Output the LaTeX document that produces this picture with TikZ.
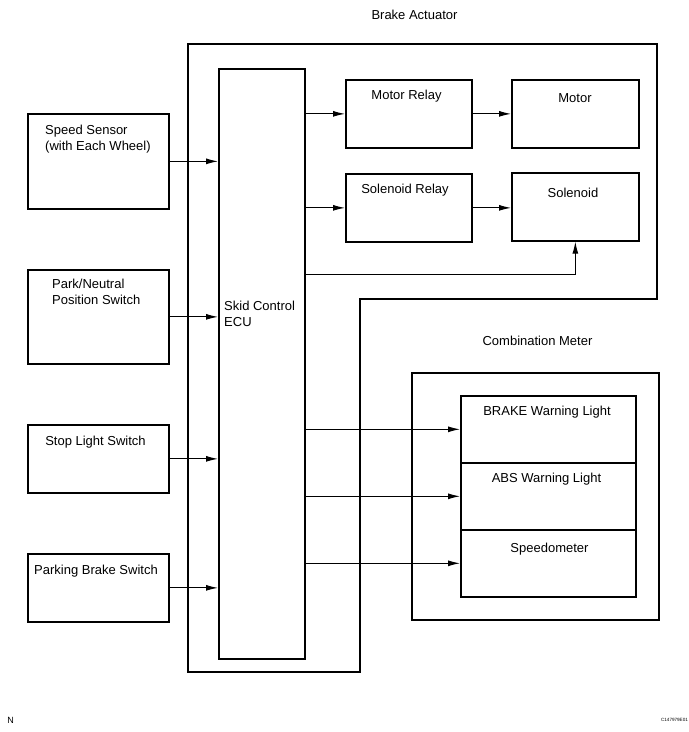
\documentclass[tikz,border=0pt]{standalone}
\usepackage{fontspec}
\setmainfont{Liberation Sans}
\usetikzlibrary{arrows.meta}
\tikzset{
  box/.style={draw, line width=1.7pt, rectangle, anchor=north west, inner sep=0pt},
  obox/.style={draw, line width=1.6pt, rectangle, anchor=north west, inner sep=0pt},
  lbl/.style={font=\fontsize{13}{16}\selectfont, inner sep=0pt},
  arr/.style={line width=1pt, -{Latex[length=12pt,width=6pt]}},
  wire/.style={line width=1pt}
}
\begin{document}
\begin{tikzpicture}[x=1pt,y=-1pt]
\useasboundingbox (0,0) rectangle (689,732);
% Brake actuator outline
\coordinate (ba1) at (188,44);
\coordinate (ba2) at (657,44);
\coordinate (ba3) at (657,299);
\coordinate (ba4) at (360,299);
\coordinate (ba5) at (360,672);
\coordinate (ba6) at (188,672);
\draw[line width=1.6pt] (ba1) -- (ba2) -- (ba3) -- (ba4) -- (ba5) -- (ba6) -- cycle;
\node[lbl] (tba) at (414.5,15) {Brake Actuator};

% ECU
\node[box, minimum width=86, minimum height=590] (ecu) at (218,68) {};
\node[lbl, anchor=west, align=left] (tecu) at (224,314) {Skid Control\\ECU};

% Actuator internals
\node[box, minimum width=126, minimum height=68] (mr) at (345,79) {};
\node[lbl] (tmr) at (406.5,96) {Motor Relay};
\node[box, minimum width=127, minimum height=68] (mo) at (511,79) {};
\node[lbl] (tmo) at (575,98) {Motor};
\node[box, minimum width=126, minimum height=68] (sr) at (345,173) {};
\node[lbl] (tsr) at (405,190) {Solenoid Relay};
\node[box, minimum width=127, minimum height=68] (so) at (511,172) {};
\node[lbl] (tso) at (573,193) {Solenoid};

% Input switches
\node[box, minimum width=141, minimum height=95] (ss) at (27,113) {};
\node[lbl, anchor=west, align=left] (tss) at (45,139) {Speed Sensor\\(with Each Wheel)};
\node[box, minimum width=141, minimum height=94] (pn) at (27,269) {};
\node[lbl, anchor=west, align=left] (tpn) at (52,292) {Park/Neutral\\Position Switch};
\node[box, minimum width=141, minimum height=68] (sl) at (27,424) {};
\node[lbl] (tsl) at (95.5,442) {Stop Light Switch};
\node[box, minimum width=141, minimum height=68] (pb) at (27,553) {};
\node[lbl] (tpb) at (96,571) {Parking Brake Switch};

% Combination meter
\node[obox, minimum width=247, minimum height=247] (cm) at (411,372) {};
\node[lbl] (tcm) at (537.5,341) {Combination Meter};
\node[obox, minimum width=175, minimum height=67] (bwl) at (460,395) {};
\node[lbl] (tbwl) at (547,412) {BRAKE Warning Light};
\node[obox, minimum width=175, minimum height=67] (awl) at (460,462) {};
\node[lbl] (tawl) at (546.5,479) {ABS Warning Light};
\node[obox, minimum width=175, minimum height=67] (spd) at (460,529) {};
\node[lbl] (tspd) at (549.5,549) {Speedometer};

% Connectors
\draw[arr] (ss.east) -- (ss.east -| ecu.west);
\draw[arr] (pn.east) -- (pn.east -| ecu.west);
\draw[arr] (sl.east) -- (sl.east -| ecu.west);
\draw[arr] (pb.east) -- (pb.east -| ecu.west);
\draw[arr] (ecu.east |- mr.west) -- (mr.west);
\draw[arr] (mr.east) -- (mo.west |- mr.east);
\draw[arr] (ecu.east |- sr.west) -- (sr.west);
\draw[arr] (sr.east) -- (so.west |- sr.east);
\coordinate (fbk) at (304,274);
\draw[arr] (fbk) -| (so.south);
\draw[arr] (ecu.east |- bwl.west) -- (bwl.west);
\draw[arr] (ecu.east |- awl.west) -- (awl.west);
\draw[arr] (ecu.east |- spd.west) -- (spd.west);

% Footer
\node[font=\fontsize{9}{10}\selectfont, inner sep=0pt] (fn) at (10.5,720) {N};
\node[font=\fontsize{4.6}{5}\selectfont, inner sep=0pt] (fid) at (674.5,720) {C147979E01};
\end{tikzpicture}
\end{document}
